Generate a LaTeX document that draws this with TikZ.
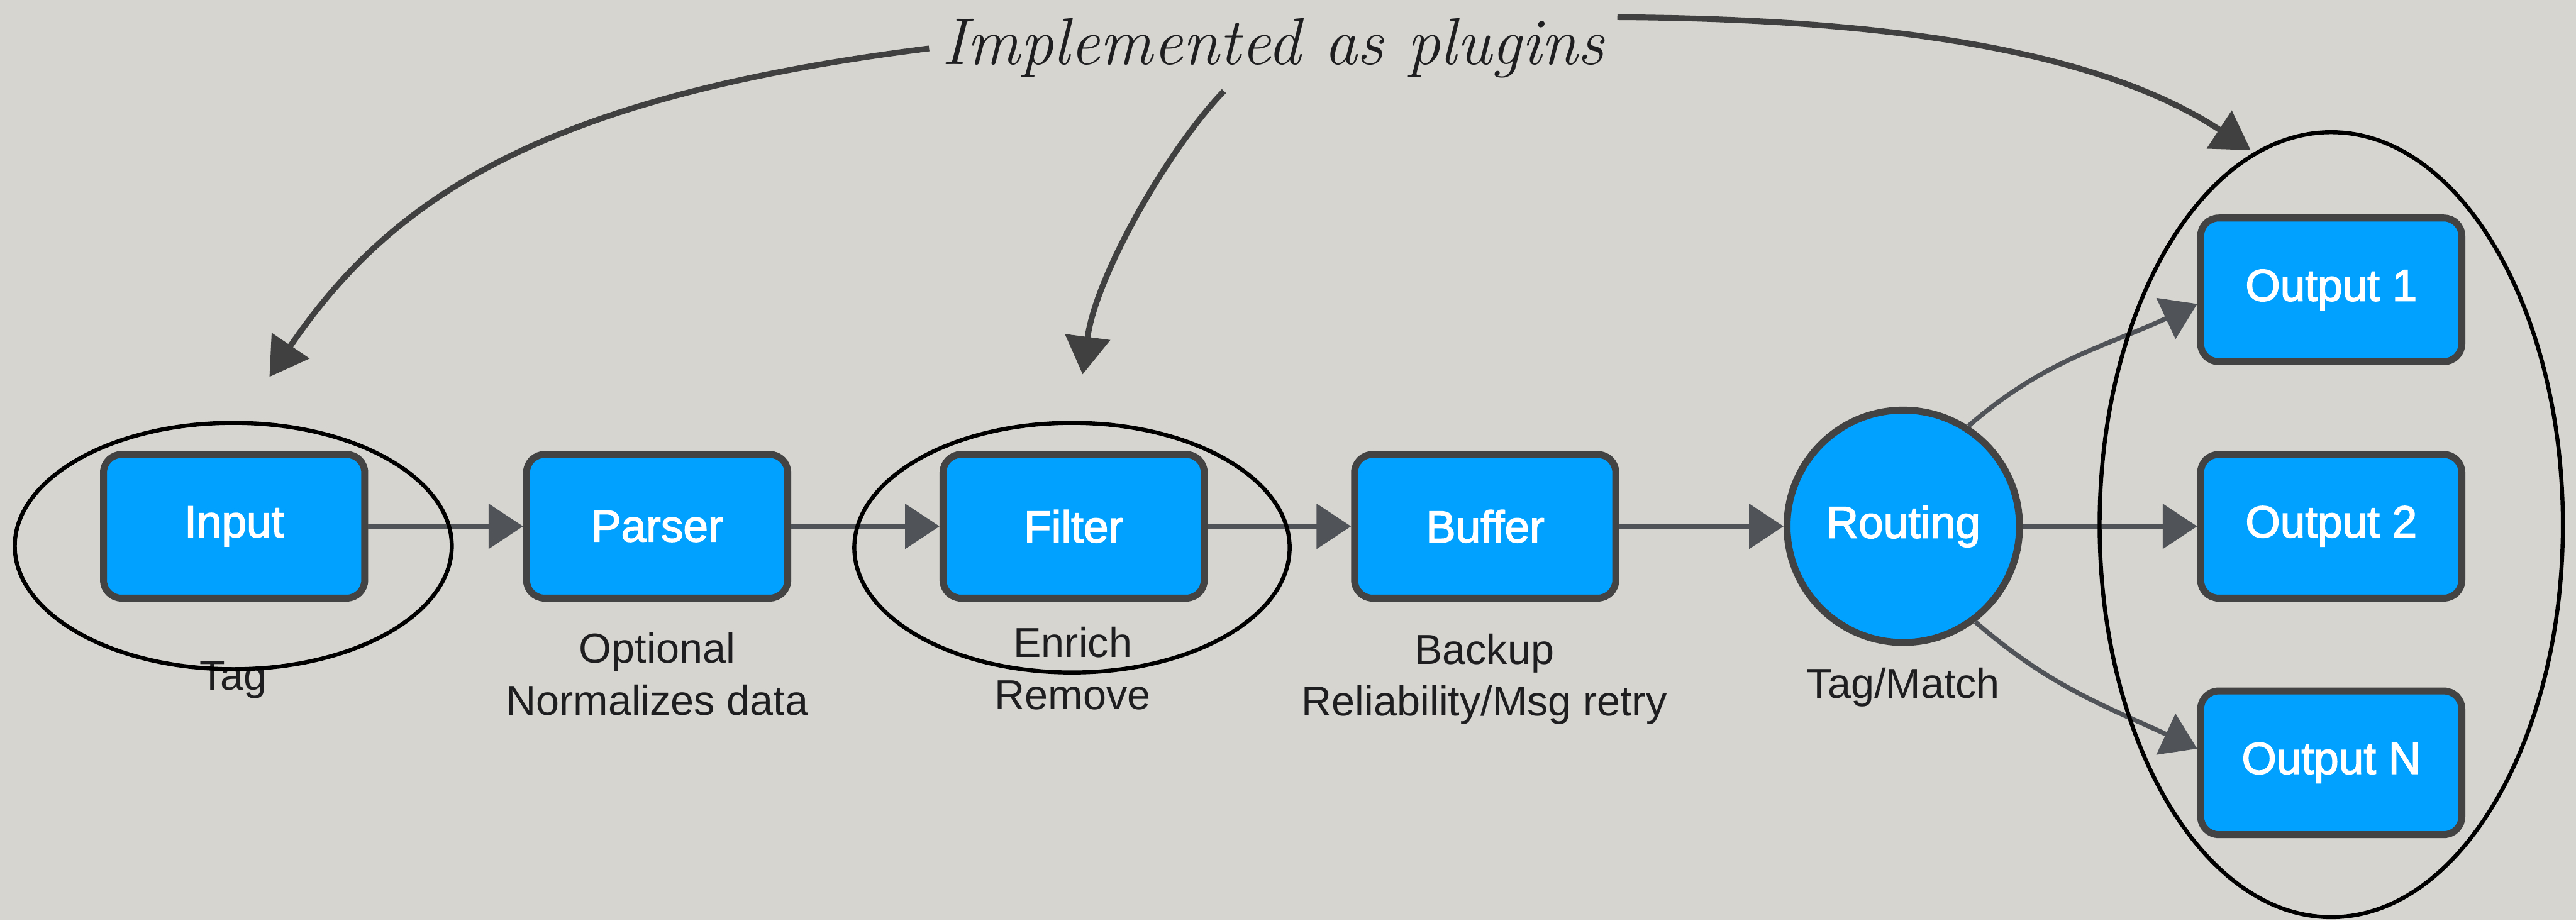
\documentclass[tikz,border=0pt]{standalone}
\usepackage{fontspec}
\newfontfamily\helv{Liberation Sans}
\newfontfamily\helvmed[FakeBold=2.2]{Liberation Sans}
\usetikzlibrary{arrows.meta}

\definecolor{paper}{RGB}{214,213,208}
\definecolor{boxblue}{RGB}{0,161,255}
\definecolor{rim}{RGB}{67,67,67}
\definecolor{flowgray}{RGB}{80,83,88}
\definecolor{inkgray}{RGB}{64,64,64}
\definecolor{txt}{RGB}{30,30,32}

\tikzset{
    stage/.style={draw=rim,line width=2.4pt,fill=boxblue,rounded corners=0.22cm,
        minimum width=3.18cm,minimum height=1.75cm,text=white,
        font=\helvmed\fontsize{15.5}{18}\selectfont},
    hub/.style={circle,draw=rim,line width=2.4pt,fill=boxblue,
        minimum size=2.83cm,text=white,
        font=\helvmed\fontsize{15.5}{18}\selectfont},
    note/.style={align=center,text=txt,inner sep=0pt,
        font=\helv\fontsize{14.5}{18}\selectfont},
    headline/.style={text=txt,inner sep=1.5mm,
        font=\itshape\fontsize{23}{26}\selectfont},
    flow/.style={draw=flowgray,line width=1.6pt,
        -{Triangle[length=0.42cm,width=0.54cm]}},
    hint/.style={draw=inkgray,line width=2pt,
        -{Triangle[length=0.46cm,width=0.54cm]}},
    ring/.style={draw=black,line width=1.4pt},
}

\begin{document}
\begin{tikzpicture}
    \fill[paper] (0,0) rectangle (31.36,11.21);
    \useasboundingbox (0,0) rectangle (31.36,11.21);

    % pipeline
    \node[stage] (input) at (2.85,4.80) {Input};
    \node[stage] (parser) at (8.00,4.80) {Parser};
    \node[stage] (filter) at (13.07,4.80) {Filter};
    \node[stage] (buffer) at (18.08,4.80) {Buffer};
    \node[hub] (route) at (23.17,4.80) {Routing};
    \node[stage] (out1) at (28.38,7.68) {Output 1};
    \node[stage] (out2) at (28.38,4.80) {Output 2};
    \node[stage] (outn) at (28.38,1.92) {Output N};

    \draw[flow] (input) -- (parser);
    \draw[flow] (parser) -- (filter);
    \draw[flow] (filter) -- (buffer);
    \draw[flow] (buffer) -- (route);
    \draw[flow] (route) -- (out2);
    \draw[flow] (route.57) to[out=41,in=205] (out1.186);
    \draw[flow] (route.-53) to[out=-41,in=155] (outn.174);

    % notes under the stages
    \node[note] (taglbl) at (2.84,2.93) {Tag};
    \node[note] (parserlbl) at (8.00,3.00) {Optional\\Normalizes data};
    \node[note] (filterlbl) at (13.06,3.07) {Enrich\\Remove};
    \node[note] (bufferlbl) at (18.07,2.94) {Backup\\Reliability/Msg retry};
    \node[note] (routelbl) at (23.17,2.84) {Tag/Match};

    % plugin groups
    \draw[ring] (2.84,4.56) ellipse [x radius=2.66,y radius=1.50];
    \draw[ring] (13.05,4.54) ellipse [x radius=2.65,y radius=1.52];
    \draw[ring] (28.38,4.82) ellipse [x radius=2.82,y radius=4.78];

    \node[headline] (plugins) at (15.50,10.62) {Implemented as plugins};
    \coordinate (intip) at (3.28,6.62);
    \coordinate (filtip) at (13.18,6.65);
    \coordinate (outtip) at (27.40,9.38);

    \draw[hint] (plugins.west) .. controls (6.70,10.04) and (4.80,8.86) .. (intip);
    \draw[hint] ([xshift=-6mm]plugins.south) .. controls (14.24,9.42) and (13.34,7.86) .. (filtip);
    \draw[hint] ([yshift=3.8mm]plugins.east) .. controls (23.00,10.98) and (25.56,10.59) .. (outtip);
\end{tikzpicture}
\end{document}
